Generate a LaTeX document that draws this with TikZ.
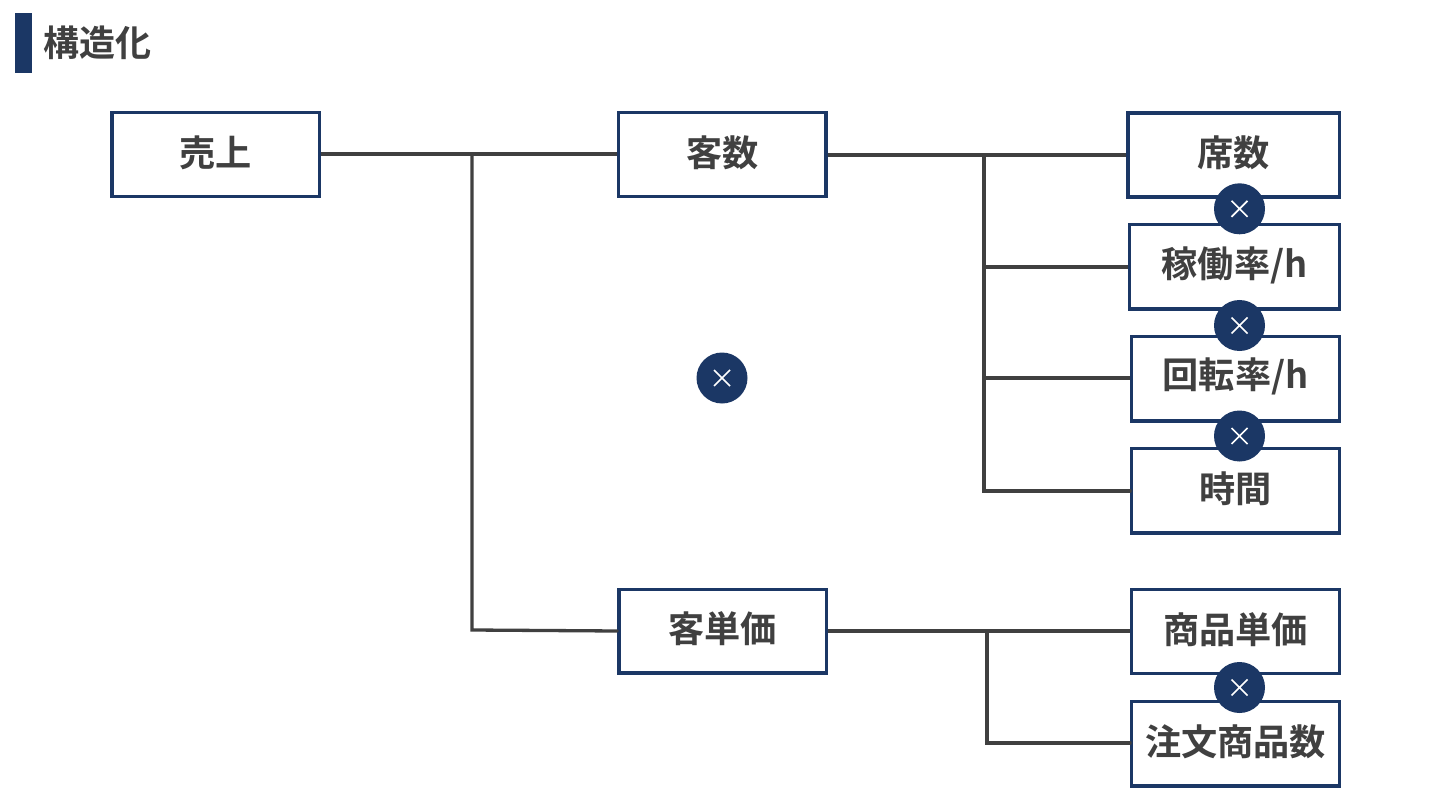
\documentclass[tikz,border=0pt]{standalone}
\usepackage{fontspec}
\newfontfamily\cjk{Noto Sans CJK JP}[BoldFont={* Bold}]
\definecolor{navy}{HTML}{1B3765}
\definecolor{ink}{HTML}{404040}
\begin{document}
\begin{tikzpicture}[x=1pt,y=-1pt,
 box/.style={draw=navy,line width=3.3pt,fill=white,outer sep=1.65pt,inner sep=0pt,anchor=north west},
 lab/.style={text=ink,font=\cjk\bfseries\fontsize{36.2}{40}\selectfont,inner sep=0pt},
 link/.style={draw=ink,line width=3.3pt},
 times/.style={circle,fill=navy,draw=none,minimum size=51pt,inner sep=0pt,outer sep=0pt},
 timesmark/.style={white,line width=1.7pt}]
\useasboundingbox (0,0) rectangle (1440,810);
\fill[white] (0,0) rectangle (1440,810);
\fill[navy] (15,13) rectangle (32.3,72.8);
\node[anchor=west,text=ink,font=\cjk\bfseries\fontsize{36}{40}\selectfont,inner sep=0pt] (title) at (43,43) {構造化};
\newcommand{\bx}[6]{\node[box,minimum width=#4pt,minimum height=#5pt] (#1) at (#2,#3) {}; \node[lab] (#1t) at ([yshift=2pt]#1.center) {#6};}
\bx{a}{110.2}{110.8}{207.9}{84.2}{売上}
\bx{b}{617}{110.8}{207.2}{84.2}{客数}
\bx{c}{617.2}{587.8}{207.5}{83.4}{客単価}
\bx{d}{1126.2}{111.5}{211.6}{84}{席数}
\bx{e}{1128.1}{223.1}{209.7}{84.4}{稼働率/h}
\bx{f}{1130.1}{334.8}{207.7}{84.4}{回転率/h}
\bx{g}{1130.1}{446.8}{207.7}{84.4}{時間}
\bx{h}{1130.1}{587.8}{207.7}{83.7}{商品単価}
\bx{i}{1130.1}{699.8}{207.7}{84.4}{注文商品数}
\coordinate (j1) at (472,154);
\coordinate (j2) at (472,630);
\coordinate (k1) at (984,155);
\coordinate (k2) at (984,267);
\coordinate (k3) at (984,378);
\coordinate (k4) at (984,491);
\coordinate (m1) at (987,631);
\coordinate (m2) at (987,743);
\draw[link] (a.east|-j1) -- (b.west|-j1);
\draw[link,line cap=round] (j1) -- (j2) -- (c.west|-m1);
\draw[link] (b.east|-k1) -- (d.west|-k1);
\draw[link,line cap=round] (k1) -- (k4) -- (g.west|-k4);
\draw[link] (k2) -- (e.west|-k2);
\draw[link] (k3) -- (f.west|-k3);
\draw[link] (c.east|-m1) -- (h.west|-m1);
\draw[link,line cap=round] (m1) -- (m2) -- (i.west|-m2);
\newcommand{\tm}[3]{\node[times] (#1) at (#2,#3) {}; \draw[timesmark] ([shift={(-8,-8)}]#1.center) -- ([shift={(8,8)}]#1.center) ([shift={(-8,8)}]#1.center) -- ([shift={(8,-8)}]#1.center);}
\tm{x0}{722}{378}
\tm{x1}{1239.5}{208.8}
\tm{x2}{1239.5}{325.5}
\tm{x3}{1239.5}{436}
\tm{x4}{1239.5}{687.5}
\end{tikzpicture}
\end{document}
